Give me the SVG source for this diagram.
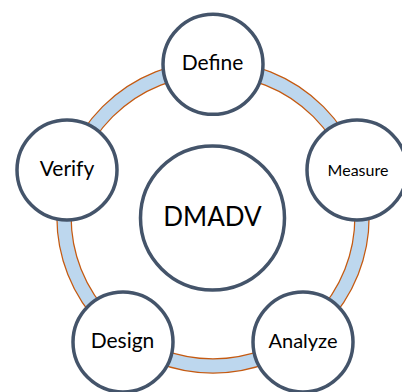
<svg xmlns="http://www.w3.org/2000/svg" width="402" height="392" viewBox="0 0 402 392">
<style>
.node{fill:#ffffff;stroke:#44546A;stroke-width:3.5}
.lbl{font-family:Lato,"Liberation Sans",sans-serif;fill:#000000;text-anchor:middle}
</style>
<rect width="402" height="392" fill="#ffffff"/>
<g id="connectors">
<circle cx="213" cy="217" r="149" fill="none" stroke="#C55A11" stroke-width="15.5"/>
<circle cx="213" cy="217" r="149" fill="none" stroke="#BDD7EE" stroke-width="13"/>
</g>
<g id="center">
<circle class="node" cx="212.5" cy="218" r="72"/>
<text class="lbl" x="212.5" y="226" font-size="26">DMADV</text>
</g>
<g id="define">
<circle class="node" cx="213" cy="64.3" r="50"/>
<text class="lbl" x="212.5" y="69.5" font-size="21">Define</text>
</g>
<g id="measure">
<circle class="node" cx="357" cy="170" r="50"/>
<text class="lbl" x="358" y="175.5" font-size="16">Measure</text>
</g>
<g id="analyze">
<circle class="node" cx="303" cy="342" r="50"/>
<text class="lbl" x="303" y="347.5" font-size="20">Analyze</text>
</g>
<g id="design">
<circle class="node" cx="123" cy="342" r="50"/>
<text class="lbl" x="122.5" y="347.5" font-size="21">Design</text>
</g>
<g id="verify">
<circle class="node" cx="67" cy="170" r="50"/>
<text class="lbl" x="67" y="176" font-size="21">Verify</text>
</g>
</svg>
